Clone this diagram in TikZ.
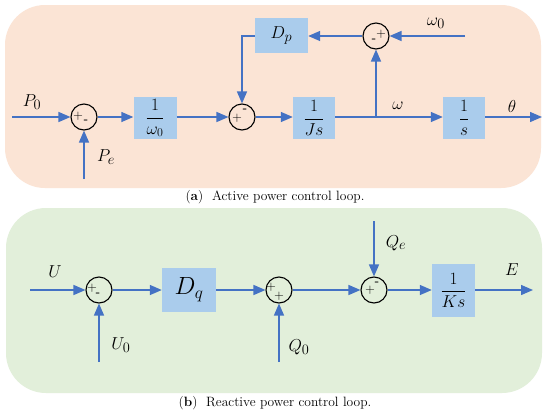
\documentclass[tikz,border=0pt]{standalone}
\usepackage{amsmath}
\usetikzlibrary{arrows.meta,calc}
\definecolor{peach}{RGB}{251,228,213}
\definecolor{mint}{RGB}{226,239,218}
\definecolor{blk}{RGB}{170,204,236}
\definecolor{ln}{RGB}{68,114,196}
\tikzset{
  panel/.style={draw=none,rounded corners=40pt},
  blockbox/.style={fill=blk,draw=none,inner sep=0pt,font=\fontsize{17}{19}\selectfont},
  sumnode/.style={circle,draw=black,line width=1.1pt,minimum size=26pt,inner sep=0pt},
  sgn/.style={inner sep=0pt,font=\sffamily\fontsize{13}{13}\selectfont},
  lbl/.style={inner sep=0pt,font=\fontsize{19}{21}\selectfont},
  sig/.style={draw=ln,line width=1.4pt,-{Triangle[length=12pt,width=10pt]}},
  wire/.style={draw=ln,line width=1.4pt},
  captext/.style={inner sep=0pt,font=\fontsize{13.5}{15}\selectfont}
}
\begin{document}
\begin{tikzpicture}[x=1pt,y=-1pt]
\useasboundingbox (0,0) rectangle (550,416);
\fill[white] (0,0) rectangle (550,416);
% panels
\fill[peach,panel] (5,5) rectangle (541,188);
\fill[mint,panel] (6,208) rectangle (542,393);
\node[captext] (capa) at (275,197) {(\textbf{a})\ \ Active power control loop.};
\node[captext] (capb) at (275,403) {(\textbf{b})\ \ Reactive power control loop.};

% ---------- panel a ----------
\coordinate (p0in) at (12,117);
\node[sumnode] (a1) at (84,117) {};
\node[sgn] (a1p) at ($(a1)+(-6,-1)$) {+};
\node[sgn] (a1m) at ($(a1)+(2,5)$) {\textbf{-}};
\coordinate (pein) at (84,179);
\node[blockbox,minimum width=43pt,minimum height=42pt] (w0) at (155,118) {$\dfrac{1}{\omega_0}$};
\node[sumnode] (a2) at (242,117) {};
\node[sgn] (a2p) at ($(a2)+(-5,1)$) {+};
\node[sgn] (a2m) at ($(a2)+(3,-6)$) {\textbf{-}};
\node[blockbox,minimum width=53pt,minimum height=35pt] (dp) at (281.5,35.5) {\fontsize{19}{21}\selectfont$D_p$};
\node[sumnode] (a3) at (376,36) {};
\node[sgn] (a3m) at ($(a3)+(-2,5)$) {\textbf{-}};
\node[sgn] (a3p) at ($(a3)+(5,-2)$) {+};
\coordinate (w0in) at (465,36);
\node[blockbox,minimum width=42pt,minimum height=42pt] (js) at (314,118) {$\dfrac{1}{Js}$};
\coordinate (br) at (376,117);
\node[blockbox,minimum width=42pt,minimum height=42pt] (is) at (464,118) {$\dfrac{1}{s}$};
\coordinate (thout) at (542,117);

\draw[sig] (p0in) -- (a1.west);
\draw[sig] (pein) -- (a1.south);
\draw[sig] (a1.east) -- (w0.west |- a1.east);
\draw[sig] (w0.east |- a2.west) -- (a2.west);
\draw[sig] (a2.east) -- (js.west |- a2.east);
\draw[wire] (js.east |- br) -- (br);
\draw[sig] (br) -- (is.west |- br);
\draw[sig] (is.east |- thout) -- (thout);
\draw[sig] (br) -- (a3.south);
\draw[sig] (w0in) -- (a3.east);
\draw[sig] (a3.west) -- (dp.east |- a3.west);
\draw[sig] (dp.west |- a3.west) -| (a2.north);

\node[lbl] (lp0) at (32,102) {$P_0$};
\node[lbl] (lpe) at (106,157) {$P_e$};
\node[lbl] (lw0) at (436,23) {$\omega_0$};
\node[lbl] (lw) at (398,106) {$\omega$};
\node[lbl] (lth) at (512,106) {$\theta$};

% ---------- panel b ----------
\coordinate (uin) at (30,290);
\node[sumnode] (b1) at (99,290) {};
\node[sgn] (b1p) at ($(b1)+(-7,-2)$) {+};
\node[sgn] (b1m) at ($(b1)+(-1,5)$) {\textbf{-}};
\coordinate (u0in) at (99,362);
\node[blockbox,minimum width=54pt,minimum height=44pt] (dq) at (189,290) {\fontsize{24}{26}\selectfont$D_q$};
\node[sumnode] (b2) at (279,290) {};
\node[sgn] (b2p) at ($(b2)+(-8,-3)$) {+};
\node[sgn] (b2q) at ($(b2)+(0,6)$) {+};
\coordinate (q0in) at (279,362);
\node[sumnode] (b3) at (374,290) {};
\node[sgn] (b3p) at ($(b3)+(-4,0)$) {+};
\node[sgn] (b3m) at ($(b3)+(3,-6)$) {\textbf{-}};
\coordinate (qein) at (374,221);
\node[blockbox,minimum width=43pt,minimum height=53pt] (ks) at (453.5,290.5) {$\dfrac{1}{Ks}$};
\coordinate (eout) at (533,290);

\draw[sig] (uin) -- (b1.west);
\draw[sig] (u0in) -- (b1.south);
\draw[sig] (b1.east) -- (dq.west |- b1.east);
\draw[sig] (dq.east |- b2.west) -- (b2.west);
\draw[sig] (q0in) -- (b2.south);
\draw[sig] (b2.east) -- (b3.west);
\draw[sig] (qein) -- (b3.north);
\draw[sig] (b3.east) -- (ks.west |- b3.east);
\draw[sig] (ks.east |- eout) -- (eout);

\node[lbl] (lu) at (55,272) {$U$};
\node[lbl] (lu0) at (121,345) {$U_0$};
\node[lbl] (lq0) at (299,347) {$Q_0$};
\node[lbl] (lqe) at (396,243) {$Q_e$};
\node[lbl] (le) at (512,270) {$E$};
\end{tikzpicture}
\end{document}
